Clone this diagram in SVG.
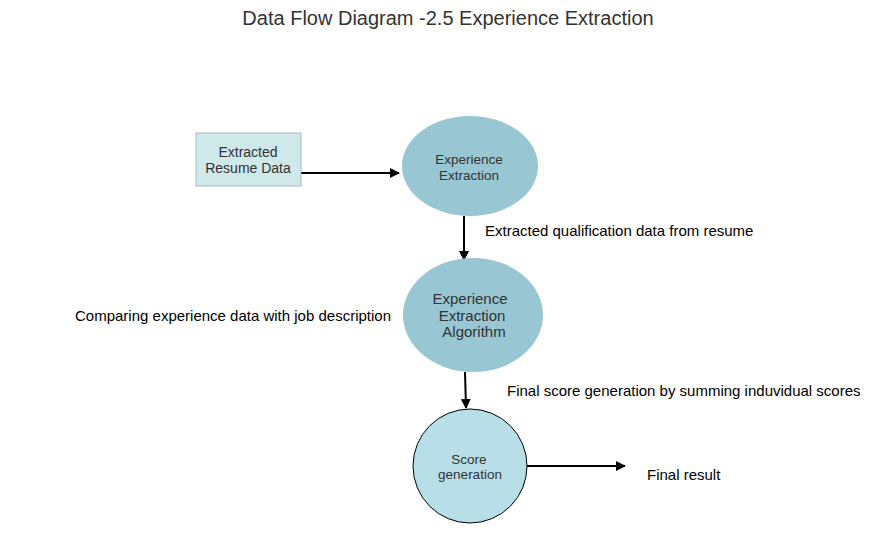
<svg xmlns="http://www.w3.org/2000/svg" width="877" height="557" viewBox="0 0 877 557">
<style>
text{font-family:"Liberation Sans",Arial,sans-serif;}
.t{font-size:15px;fill:#000;}
.n{fill:#333;text-anchor:middle;}
.c{stroke:#000;stroke-width:2;fill:none;}
</style>
<defs>
<marker id="ah" markerWidth="10" markerHeight="10" refX="9" refY="5" orient="auto" markerUnits="userSpaceOnUse">
<path d="M0,0 L10,5 L0,10 Z" fill="#000"/>
</marker>
</defs>
<rect width="877" height="557" fill="#fff"/>
<text x="448" y="25" font-size="20" fill="#333" text-anchor="middle">Data Flow Diagram -2.5 Experience Extraction</text>
<g id="connectors">
<line class="c" x1="301" y1="173" x2="399" y2="173" marker-end="url(#ah)"/>
<line class="c" x1="464" y1="216" x2="464" y2="260" marker-end="url(#ah)"/>
<line class="c" x1="465" y1="372" x2="466" y2="408" marker-end="url(#ah)"/>
<line class="c" x1="527" y1="466" x2="625" y2="466" marker-end="url(#ah)"/>
</g>
<g id="n-resume">
<rect x="196" y="133" width="105" height="53" fill="#cfe8ea" stroke="#a9b9bb" stroke-width="1"/>
<text class="n" x="248" y="157" font-size="14">Extracted</text>
<text class="n" x="248" y="173" font-size="14">Resume Data</text>
</g>
<g id="n-extraction">
<ellipse cx="470" cy="166" rx="68" ry="50" fill="#98c6d2"/>
<text class="n" x="469" y="164" font-size="13.5">Experience</text>
<text class="n" x="469" y="180" font-size="13.5">Extraction</text>
</g>
<g id="n-algorithm">
<ellipse cx="473" cy="315" rx="70" ry="57" fill="#98c6d2"/>
<text class="n" x="470" y="304" font-size="15">Experience</text>
<text class="n" x="472" y="321" font-size="15">Extraction</text>
<text class="n" x="474" y="337" font-size="15">Algorithm</text>
</g>
<g id="n-score">
<circle cx="470" cy="466" r="57" fill="#b8dee8" stroke="#000" stroke-width="1"/>
<text class="n" x="469" y="464" font-size="13.5" fill="#000">Score</text>
<text class="n" x="470" y="479" font-size="13.5">generation</text>
</g>
<g id="labels">
<text class="t" x="485" y="236">Extracted qualification data from resume</text>
<text class="t" x="75" y="321">Comparing experience data with job description</text>
<text class="t" x="507" y="396">Final score generation by summing induvidual scores</text>
<text class="t" x="647" y="480">Final result</text>
</g>
</svg>
